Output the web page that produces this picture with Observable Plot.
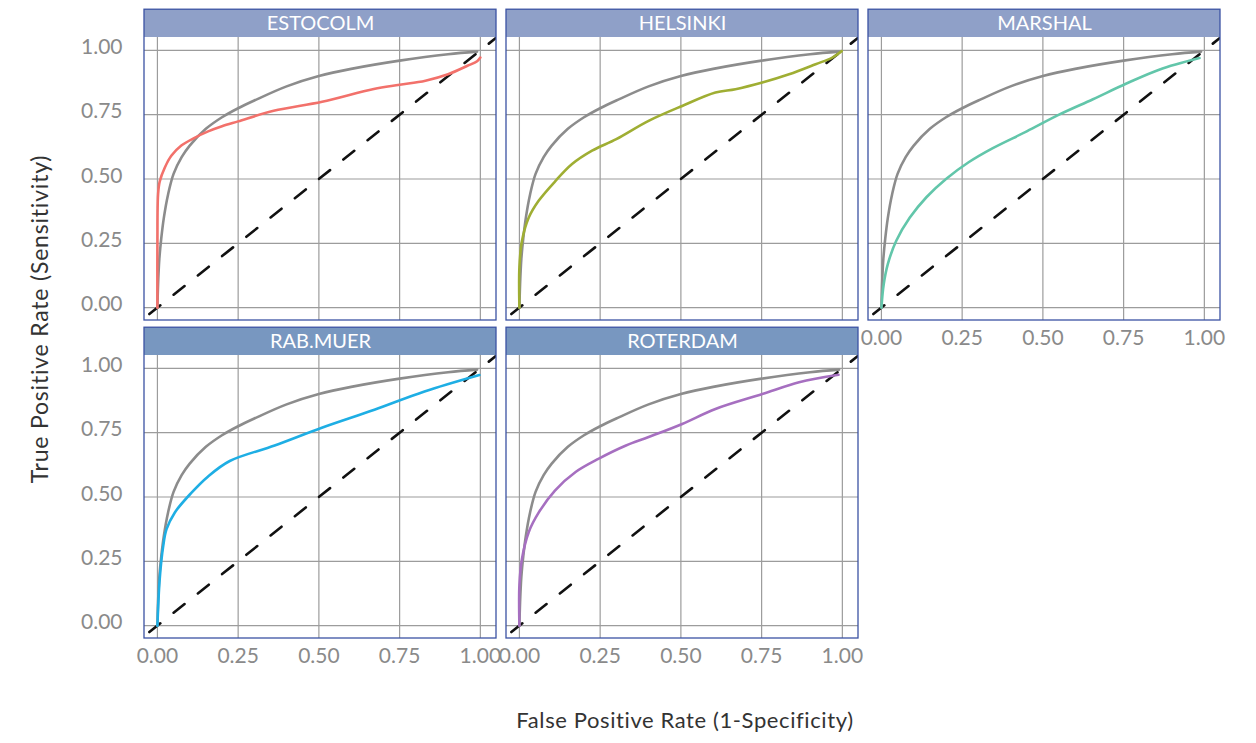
<!DOCTYPE html>
<html><head><meta charset="utf-8">
<script src="https://cdn.jsdelivr.net/npm/d3@7"></script>
<script src="https://cdn.jsdelivr.net/npm/@observablehq/plot@0.6"></script>
<style>body{margin:0;background:#fff}#chart{width:1256px;height:743px}</style>
</head><body><div id="chart"></div>
<script>
// ---- data ----
const panelNames = ["ESTOCOLM", "HELSINKI", "MARSHAL", "RAB.MUER", "ROTERDAM"];
const panelCols = [0, 1, 2, 0, 1];
const panelRows = [0, 0, 0, 1, 1];
const curveColors = ["#f2716b", "#9fae33", "#62c6aa", "#1eaee4", "#a66fc0"];
const headerFills = ["#8fa0c8", "#7897c0"];

const refFpr = [0, 0.002, 0.006, 0.012, 0.02, 0.033, 0.05, 0.075, 0.1, 0.15, 0.2, 0.25, 0.3, 0.4, 0.5, 0.6, 0.75, 0.9, 0.99];
const refTpr = [0, 0.09, 0.19, 0.27, 0.35, 0.44, 0.52, 0.585, 0.63, 0.695, 0.74, 0.775, 0.805, 0.86, 0.9, 0.928, 0.96, 0.985, 0.995];

const estocolmFpr = [0, 0, 0.002, 0.007, 0.023, 0.043, 0.074, 0.115, 0.157, 0.2, 0.25, 0.36, 0.51, 0.67, 0.75, 0.83, 0.9, 0.96, 0.99, 1.0];
const estocolmTpr = [0, 0.25, 0.44, 0.49, 0.545, 0.59, 0.63, 0.66, 0.685, 0.705, 0.724, 0.765, 0.80, 0.85, 0.866, 0.882, 0.907, 0.94, 0.958, 0.972];

const helsinkiFpr = [0, 0, 0.008, 0.029, 0.06, 0.11, 0.163, 0.225, 0.3, 0.4, 0.504, 0.607, 0.669, 0.752, 0.835, 0.917, 0.969, 0.998];
const helsinkiTpr = [0, 0.158, 0.26, 0.35, 0.416, 0.49, 0.558, 0.61, 0.655, 0.726, 0.784, 0.836, 0.849, 0.875, 0.907, 0.946, 0.972, 0.997];

const marshalFpr = [0, 0.007, 0.02, 0.046, 0.088, 0.14, 0.2, 0.27, 0.345, 0.45, 0.55, 0.655, 0.757, 0.86, 0.985];
const marshalTpr = [0, 0.09, 0.17, 0.26, 0.35, 0.43, 0.5, 0.565, 0.62, 0.685, 0.75, 0.81, 0.87, 0.925, 0.97];

const rabmuerFpr = [0, 0.007, 0.018, 0.028, 0.054, 0.105, 0.157, 0.224, 0.363, 0.507, 0.672, 0.827, 0.997];
const rabmuerTpr = [0, 0.18, 0.31, 0.374, 0.44, 0.516, 0.58, 0.64, 0.70, 0.768, 0.839, 0.91, 0.974];

const roterdamFpr = [0, 0, 0.008, 0.029, 0.06, 0.11, 0.174, 0.246, 0.33, 0.4, 0.504, 0.607, 0.752, 0.866, 0.988];
const roterdamTpr = [0, 0.158, 0.26, 0.364, 0.44, 0.525, 0.597, 0.649, 0.70, 0.733, 0.784, 0.842, 0.90, 0.946, 0.975];

const tickValues = [0, 0.25, 0.5, 0.75, 1];
const tickLabels = ["0.00", "0.25", "0.50", "0.75", "1.00"];
const xTitle = "False Positive Rate (1-Specificity)";
const yTitle = "True Positive Rate (Sensitivity)";

// ---- tables built from the arrays ----
const fprs = [estocolmFpr, helsinkiFpr, marshalFpr, rabmuerFpr, roterdamFpr];
const tprs = [estocolmTpr, helsinkiTpr, marshalTpr, rabmuerTpr, roterdamTpr];
const panels = panelNames.map((name, i) => ({name, col: panelCols[i], row: panelRows[i], color: curveColors[i]}));
const curveRows = panels.flatMap((p, i) => fprs[i].map((x, j) => ({...p, fpr: x, tpr: tprs[i][j]})));
const refRows = refFpr.map((x, j) => ({fpr: x, tpr: refTpr[j]}));
const diagRows = [{v: -0.1}, {v: 1.2}];

const xDom = [-0.04, 1.05], yDom = [-0.05, 1.05], headTop = 1.158;
const fmt = d => tickLabels[tickValues.indexOf(d)];

const svg = Plot.plot({
  width: 1256, height: 743,
  marginLeft: 143, marginRight: 34, marginTop: 36, marginBottom: 104,
  style: {fontFamily: "Lato, 'Open Sans', sans-serif", background: "#fff", overflow: "visible"},
  fx: {axis: null, domain: [0, 1, 2], paddingInner: 0.0275, paddingOuter: 0},
  fy: {axis: null, domain: [0, 1], paddingInner: 0.1097, paddingOuter: 0},
  x: {domain: xDom, axis: null},
  y: {domain: yDom, axis: null},
  color: {type: "identity"},
  marks: [
    Plot.gridX(tickValues, {stroke: "#9c9c9c", strokeOpacity: 1, strokeWidth: 1.2}),
    Plot.gridY(tickValues, {stroke: "#9c9c9c", strokeOpacity: 1, strokeWidth: 1.2}),
    Plot.line(diagRows, {x: "v", y: "v", clip: true, stroke: "#111", strokeWidth: 2.6, strokeDasharray: "14,17"}),
    Plot.line(refRows, {x: "fpr", y: "tpr", stroke: "#8c8c8c", strokeWidth: 2.6, curve: "catmull-rom"}),
    Plot.line(curveRows, {x: "fpr", y: "tpr", z: "name", stroke: "color", fx: "col", fy: "row", strokeWidth: 2.6, curve: "catmull-rom"}),
    Plot.rect(panels, {fx: "col", fy: "row", x1: () => xDom[0], x2: () => xDom[1], y1: () => yDom[1], y2: () => headTop, fill: d => headerFills[d.row]}),
    Plot.text(panels, {fx: "col", fy: "row", x: () => (xDom[0] + xDom[1]) / 2, y: () => (yDom[1] + headTop) / 2, text: "name", fill: "white", fontSize: 20}),
    Plot.rect(panels, {fx: "col", fy: "row", x1: () => xDom[0], x2: () => xDom[1], y1: () => yDom[0], y2: () => headTop, fill: "none", stroke: "#3b52a3", strokeWidth: 1.3}),
    Plot.axisX(tickValues, {facetAnchor: "bottom-empty", tickSize: 0, tickPadding: 10, tickFormat: fmt, fontSize: 21, fill: "#8a8a8a", label: null}),
    Plot.axisY(tickValues, {facetAnchor: "left", tickSize: 0, tickPadding: 22, tickFormat: fmt, fontSize: 21, fill: "#8a8a8a", dy: -3, label: null})
  ]
});

const s = d3.select(svg);
s.append("text").attr("x", 685).attr("y", 722).attr("text-anchor", "middle").attr("dominant-baseline", "middle")
  .attr("font-size", 22).attr("letter-spacing", 0.6).attr("fill", "#333").text(xTitle);
s.append("text").attr("transform", "translate(42,319) rotate(-90)").attr("text-anchor", "middle").attr("dominant-baseline", "middle")
  .attr("font-size", 23).attr("letter-spacing", 0.8).attr("fill", "#333").text(yTitle);

document.getElementById("chart").appendChild(svg);
</script>
</body></html>
